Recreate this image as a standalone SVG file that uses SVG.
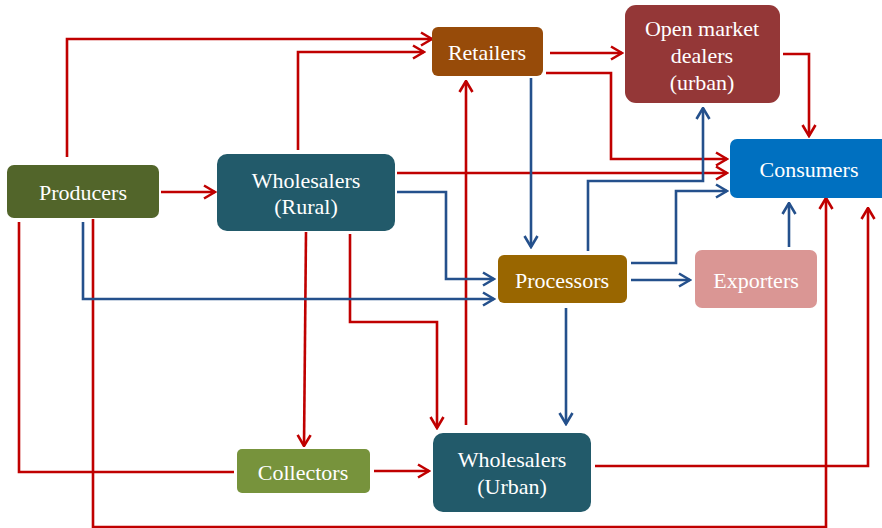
<svg xmlns="http://www.w3.org/2000/svg" width="882" height="528" viewBox="0 0 882 528">
  <style>
    .lbl { font-family: "Liberation Serif", "Times New Roman", serif; font-size: 22px; fill: #ffffff; text-anchor: middle; }
    .red { fill: none; stroke: #C00000; stroke-width: 2.6; marker-end: url(#arrRed); }
    .redn { fill: none; stroke: #C00000; stroke-width: 2.6; }
    .blue { fill: none; stroke: #24508C; stroke-width: 2.6; marker-end: url(#arrBlue); }
  </style>
  <defs>
    <marker id="arrRed" viewBox="0 0 14 16" refX="12.5" refY="8" markerWidth="14" markerHeight="16" markerUnits="userSpaceOnUse" orient="auto">
      <path d="M1.5,1.5 L12.5,8 L1.5,14.5" fill="none" stroke="#C00000" stroke-width="2.6"/>
    </marker>
    <marker id="arrBlue" viewBox="0 0 14 16" refX="12.5" refY="8" markerWidth="14" markerHeight="16" markerUnits="userSpaceOnUse" orient="auto">
      <path d="M1.5,1.5 L12.5,8 L1.5,14.5" fill="none" stroke="#24508C" stroke-width="2.6"/>
    </marker>
  </defs>

  <rect width="882" height="528" fill="#ffffff"/>

  <g id="connectors">
    <!-- red flows -->
    <path class="red" d="M67,157 V39 H432"/>
    <path class="red" d="M298,150 V52 H424"/>
    <path class="red" d="M161,192 H215"/>
    <path class="red" d="M397,173 H727"/>
    <path class="red" d="M550,53 H622"/>
    <path class="red" d="M546,73 H611 V159 H727"/>
    <path class="red" d="M783,54 H809 V136"/>
    <path class="red" d="M466,425 V81"/>
    <path class="red" d="M306,232 L304,446"/>
    <path class="red" d="M350,234 V322 H437 V428"/>
    <path class="redn" d="M19,222 V472 H234"/>
    <path class="red" d="M374,471 H429"/>
    <path class="red" d="M93,219 V527 H826 V198"/>
    <path class="red" d="M595,466 H868 V208"/>
    <!-- blue flows -->
    <path class="blue" d="M83,222 V299 H494"/>
    <path class="blue" d="M397,192 H446 V279 H494"/>
    <path class="blue" d="M531,78 V247"/>
    <path class="blue" d="M588,251 V181 H703 V108"/>
    <path class="blue" d="M631,263 H676 V191 H727"/>
    <path class="blue" d="M631,280 H690"/>
    <path class="blue" d="M566,308 V424"/>
    <path class="blue" d="M789,247 V203"/>
  </g>

  <g id="producers">
    <rect x="7" y="165" width="152" height="53" rx="7" fill="#52652A"/>
    <text class="lbl" x="83" y="200">Producers</text>
  </g>
  <g id="wholesalers-rural">
    <rect x="217" y="154" width="178" height="77" rx="10" fill="#225A6A"/>
    <text class="lbl" x="306" y="188">Wholesalers</text>
    <text class="lbl" x="306" y="214">(Rural)</text>
  </g>
  <g id="retailers">
    <rect x="432" y="27" width="111" height="49" rx="6" fill="#974B09"/>
    <text class="lbl" x="487" y="60">Retailers</text>
  </g>
  <g id="open-market-dealers">
    <rect x="625" y="5" width="155" height="98" rx="11" fill="#943737"/>
    <text class="lbl" x="702" y="36">Open market</text>
    <text class="lbl" x="702" y="63">dealers</text>
    <text class="lbl" x="702" y="90">(urban)</text>
  </g>
  <g id="consumers">
    <rect x="730" y="139" width="160" height="59" rx="7" fill="#0070C0"/>
    <text class="lbl" x="809" y="177">Consumers</text>
  </g>
  <g id="processors">
    <rect x="498" y="255" width="129" height="48" rx="6" fill="#996600"/>
    <text class="lbl" x="562" y="288">Processors</text>
  </g>
  <g id="exporters">
    <rect x="695" y="250" width="122" height="58" rx="7" fill="#DA9694"/>
    <text class="lbl" x="756" y="288">Exporters</text>
  </g>
  <g id="collectors">
    <rect x="237" y="449" width="133" height="44" rx="5" fill="#77933C"/>
    <text class="lbl" x="303" y="480">Collectors</text>
  </g>
  <g id="wholesalers-urban">
    <rect x="433" y="433" width="158" height="79" rx="10" fill="#225A6A"/>
    <text class="lbl" x="512" y="467">Wholesalers</text>
    <text class="lbl" x="512" y="494">(Urban)</text>
  </g>
</svg>
